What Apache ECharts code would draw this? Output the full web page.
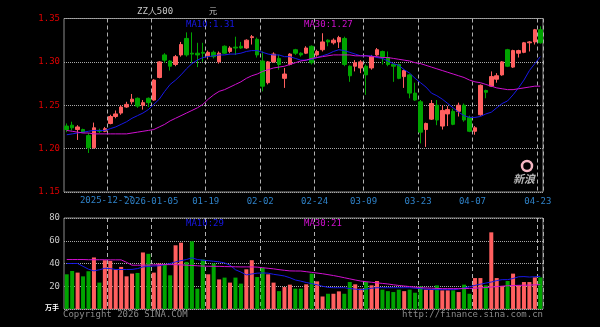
<!DOCTYPE html>
<html>
<head>
<meta charset="utf-8">
<script src="https://cdn.jsdelivr.net/npm/echarts@6/dist/echarts.min.js"></script>
<style>
html,body{margin:0;padding:0;background:#000;}
#kline{width:600px;height:327px;}
</style>
</head>
<body>
<div id="kline"></div>
<script>
// trading days shown on the chart
const dates = [
  '2025-12-10','2025-12-11','2025-12-12','2025-12-15','2025-12-16','2025-12-17','2025-12-18','2025-12-19',
  '2025-12-22','2025-12-23','2025-12-24','2025-12-25','2025-12-26','2025-12-29','2025-12-30','2025-12-31',
  '2026-01-05','2026-01-06','2026-01-07','2026-01-08','2026-01-09','2026-01-12','2026-01-13','2026-01-14','2026-01-15','2026-01-16',
  '2026-01-19','2026-01-20','2026-01-21','2026-01-22','2026-01-23','2026-01-26','2026-01-27','2026-01-28','2026-01-29','2026-01-30',
  '2026-02-02','2026-02-03','2026-02-04','2026-02-05','2026-02-06','2026-02-09','2026-02-10','2026-02-11','2026-02-12','2026-02-13',
  '2026-02-24','2026-02-25','2026-02-26','2026-02-27',
  '2026-03-02','2026-03-03','2026-03-04','2026-03-05','2026-03-06','2026-03-09','2026-03-10','2026-03-11','2026-03-12','2026-03-13',
  '2026-03-16','2026-03-17','2026-03-18','2026-03-19','2026-03-20','2026-03-23','2026-03-24','2026-03-25','2026-03-26','2026-03-27',
  '2026-03-30','2026-03-31','2026-04-01','2026-04-02','2026-04-03','2026-04-07','2026-04-08','2026-04-09','2026-04-10',
  '2026-04-13','2026-04-14','2026-04-15','2026-04-16','2026-04-17','2026-04-20','2026-04-21','2026-04-22','2026-04-23'
];
const opens = [
  1.226,1.227,1.222,1.222,1.215,1.201,1.221,1.220,1.229,1.237,
  1.241,1.248,1.254,1.258,1.250,1.258,1.256,1.282,1.308,1.301,
  1.297,1.308,1.327,1.310,1.310,1.311,1.307,1.311,1.300,1.318,
  1.312,1.317,1.318,1.316,1.328,1.326,1.301,1.276,1.300,1.304,
  1.281,1.297,1.314,1.310,1.310,1.318,1.308,1.314,1.325,1.322,
  1.323,1.327,1.295,1.295,1.293,1.295,1.293,1.308,1.312,1.305,
  1.297,1.297,1.283,1.285,1.264,1.254,1.222,1.234,1.250,1.226,
  1.240,1.243,1.243,1.250,1.236,1.220,1.239,1.267,1.272,1.280,
  1.285,1.314,1.294,1.310,1.311,1.322,1.323,1.337
];
const closes = [
  1.222,1.224,1.225,1.219,1.201,1.224,1.220,1.223,1.237,1.240,
  1.248,1.251,1.257,1.249,1.253,1.253,1.279,1.300,1.302,1.295,
  1.306,1.320,1.308,1.309,1.308,1.310,1.311,1.306,1.310,1.310,
  1.316,1.316,1.316,1.325,1.329,1.308,1.272,1.300,1.309,1.297,
  1.286,1.309,1.310,1.308,1.316,1.299,1.312,1.323,1.323,1.325,
  1.328,1.297,1.284,1.299,1.300,1.285,1.306,1.314,1.306,1.297,
  1.295,1.281,1.290,1.264,1.256,1.219,1.229,1.252,1.233,1.244,
  1.245,1.228,1.250,1.233,1.220,1.224,1.273,1.265,1.283,1.284,
  1.300,1.295,1.313,1.313,1.322,1.323,1.337,1.322
];
const lows = [
  1.219,1.221,1.210,1.218,1.195,1.200,1.218,1.219,1.228,1.235,
  1.239,1.247,1.251,1.247,1.245,1.248,1.255,1.281,1.299,1.290,
  1.295,1.306,1.306,1.299,1.294,1.300,1.303,1.304,1.298,1.309,
  1.310,1.308,1.315,1.315,1.320,1.305,1.266,1.274,1.299,1.291,
  1.270,1.296,1.308,1.306,1.309,1.297,1.306,1.312,1.318,1.320,
  1.316,1.295,1.277,1.289,1.287,1.262,1.291,1.307,1.297,1.295,
  1.277,1.280,1.270,1.258,1.255,1.206,1.202,1.233,1.227,1.222,
  1.226,1.227,1.237,1.231,1.219,1.216,1.238,1.258,1.271,1.276,
  1.284,1.294,1.293,1.305,1.310,1.312,1.320,1.321
];
const highs = [
  1.229,1.231,1.227,1.223,1.218,1.230,1.223,1.225,1.239,1.244,
  1.250,1.254,1.263,1.259,1.256,1.259,1.280,1.301,1.310,1.302,
  1.308,1.323,1.334,1.334,1.322,1.322,1.313,1.313,1.312,1.319,
  1.318,1.329,1.323,1.326,1.331,1.328,1.312,1.301,1.311,1.308,
  1.293,1.310,1.315,1.311,1.318,1.319,1.314,1.333,1.326,1.327,
  1.330,1.329,1.296,1.302,1.302,1.297,1.308,1.316,1.313,1.312,
  1.298,1.298,1.291,1.286,1.276,1.256,1.230,1.256,1.256,1.250,
  1.249,1.246,1.253,1.252,1.238,1.226,1.274,1.268,1.289,1.287,
  1.301,1.315,1.314,1.314,1.323,1.324,1.338,1.341
];
const ma10 = [
  1.216,1.217,1.218,1.219,1.220,1.221,1.221,1.221,1.223,1.225,
  1.228,1.231,1.235,1.238,1.241,1.245,1.251,1.257,1.266,1.274,
  1.279,1.285,1.292,1.298,1.302,1.305,1.306,1.307,1.308,1.308,
  1.309,1.309,1.310,1.312,1.313,1.313,1.311,1.309,1.308,1.308,
  1.306,1.306,1.304,1.302,1.302,1.303,1.305,1.307,1.309,1.312,
  1.314,1.313,1.311,1.309,1.307,1.307,1.307,1.305,1.304,1.301,
  1.298,1.296,1.291,1.287,1.281,1.276,1.271,1.264,1.261,1.257,
  1.252,1.247,1.242,1.238,1.236,1.236,1.237,1.240,1.242,1.247,
  1.252,1.255,1.262,1.270,1.279,1.290,1.298,1.306
];
const ma30 = [
  1.221,1.220,1.219,1.218,1.218,1.217,1.217,1.217,1.217,1.217,
  1.217,1.217,1.218,1.219,1.220,1.221,1.222,1.225,1.228,1.232,
  1.235,1.238,1.241,1.244,1.247,1.251,1.257,1.262,1.266,1.268,
  1.271,1.274,1.277,1.281,1.284,1.286,1.289,1.291,1.293,1.294,
  1.295,1.297,1.299,1.301,1.302,1.304,1.305,1.306,1.307,1.308,
  1.308,1.308,1.308,1.307,1.307,1.307,1.306,1.306,1.305,1.305,
  1.304,1.303,1.302,1.301,1.299,1.298,1.296,1.294,1.292,1.290,
  1.288,1.286,1.284,1.282,1.279,1.277,1.276,1.274,1.272,1.270,
  1.269,1.268,1.268,1.269,1.270,1.271,1.272,1.272
];
// volume, unit: 万
const volumes = [
  30.5,33.4,32.0,28.7,33.2,45.3,23.2,42.9,42.3,34.7,
  37.0,28.7,31.1,31.7,49.7,48.5,32.0,40.0,39.5,29.6,
  56.0,58.3,41.4,59.5,17.9,43.5,30.5,40.0,26.0,27.6,
  23.2,27.6,22.3,34.9,42.9,28.1,36.1,30.5,23.2,15.7,
  19.3,21.4,17.9,17.9,21.7,31.1,24.3,11.0,13.4,13.4,
  15.5,13.4,23.7,21.7,17.9,23.7,20.8,24.6,17.0,15.7,
  14.9,17.0,15.7,17.0,14.3,19.9,17.0,17.0,20.8,16.4,
  16.4,16.4,14.9,21.4,13.4,27.2,27.2,20.8,67.4,27.2,
  20.2,24.6,31.1,20.8,23.7,23.7,27.8,27.8
];
const volMa10 = [
  40.0,40.0,40.0,37.5,35.0,33.5,34.5,35.8,35.5,34.7,
  34.7,34.7,34.8,35.5,37.0,37.4,37.8,38.0,39.0,40.0,
  41.4,42.5,43.5,45.0,43.5,42.9,42.5,42.0,41.4,40.5,
  38.5,34.5,32.5,30.0,30.8,31.5,31.7,31.5,30.5,29.8,
  29.0,27.5,25.5,24.5,23.3,22.3,21.3,20.0,19.0,18.7,
  18.7,18.7,18.0,17.5,17.0,17.5,18.3,18.7,18.7,18.7,
  18.7,18.7,18.7,18.7,18.3,17.9,17.5,17.2,17.0,17.0,
  17.0,17.0,17.5,18.5,19.5,20.8,21.8,22.8,23.7,25.0,
  25.8,25.8,26.8,28.3,28.5,28.1,28.4,28.7
];
const volMa30 = [
  43.5,43.5,43.5,43.5,43.3,43.3,43.3,43.3,43.2,43.2,
  43.2,41.0,38.5,38.5,38.5,38.6,38.8,39.0,39.0,39.0,
  39.0,38.8,38.5,38.3,38.0,37.7,37.6,37.5,37.5,37.3,
  37.2,37.1,37.0,37.0,37.0,36.8,36.3,35.8,35.3,34.6,
  34.0,33.5,33.4,33.4,32.8,32.2,31.6,31.0,30.2,29.4,
  28.5,27.5,26.5,25.5,24.6,24.0,23.5,23.0,22.5,22.0,
  21.3,20.7,20.2,19.7,19.2,18.8,18.5,18.3,18.1,17.9,
  17.9,17.9,17.9,17.9,18.1,18.3,18.6,18.9,19.3,19.7,
  20.1,20.4,20.6,20.8,20.9,21.0,21.2,21.4
];
// dates that get a dashed line and a label
const tickDates = ['2025-12-22','2026-01-05','2026-01-19','2026-02-02','2026-02-24','2026-03-09','2026-03-23','2026-04-07','2026-04-23'];
const tickTexts = ['2025-12-22','2026-01-05','01-19','02-02','02-24','03-09','03-23','04-07','04-23'];

const MONO = '"DejaVu Sans Mono", monospace';
const UP = '#ff5f5f';
const DOWN = '#00a400';

let myChart = echarts.init(document.getElementById('kline'));

let tickIdx = tickDates.map(d => dates.indexOf(d));
let isTick = function(i){ return tickIdx.indexOf(i) >= 0; };

let kdata = dates.map((d, i) => [opens[i], closes[i], lows[i], highs[i]]);
let vdata = volumes.map((v, i) => ({
  value: v,
  itemStyle: { color: closes[i] >= opens[i] ? UP : DOWN }
}));

let vsplit = {
  show: true,
  interval: function(i){ return isTick(i); },
  lineStyle: { color: '#b0b0b0', type: [4, 3], width: 1 }
};

let option = {
  backgroundColor: '#000',
  animation: false,
  grid: [
    { left: 64, right: 57, top: 18.5, height: 173.5, show: true, borderColor: '#8c8c8c', borderWidth: 1 },
    { left: 64, right: 57, top: 218, height: 91, show: true, borderColor: '#8c8c8c', borderWidth: 1 }
  ],
  xAxis: [
    {
      type: 'category', gridIndex: 0, data: dates, boundaryGap: true,
      axisLine: { show: false }, axisTick: { show: false },
      axisLabel: {
        // the first one (2025-12-22) is drawn as a graphic below, the next label overlaps it
        interval: function(i){ return isTick(i) && i !== tickIdx[0]; },
        formatter: function(v){ return tickTexts[tickDates.indexOf(v)]; },
        hideOverlap: false,
        color: '#2f82c8', fontFamily: MONO, fontSize: 9, margin: 5,
        backgroundColor: '#000', padding: [0, 5, 0, 0]
      },
      splitLine: vsplit
    },
    {
      type: 'category', gridIndex: 1, data: dates, boundaryGap: true,
      axisLine: { show: false }, axisTick: { show: false }, axisLabel: { show: false },
      splitLine: vsplit
    }
  ],
  yAxis: [
    {
      type: 'value', gridIndex: 0, min: 1.15, max: 1.35, interval: 0.05,
      axisLine: { show: false }, axisTick: { show: false },
      axisLabel: { color: '#e00000', fontFamily: MONO, fontSize: 9, margin: 4,
        formatter: function(v){ return v.toFixed(2); } },
      splitLine: { lineStyle: { color: '#a8a8a8', type: [1, 1], width: 1 } }
    },
    {
      type: 'value', gridIndex: 1, min: 0, max: 80, interval: 20,
      axisLine: { show: false }, axisTick: { show: false },
      axisLabel: { color: '#c8c8c8', fontFamily: MONO, fontSize: 9, margin: 4,
        formatter: function(v){ return v === 0 ? '' : v; } },
      splitLine: { lineStyle: { color: '#a8a8a8', type: [1, 1], width: 1 } }
    }
  ],
  series: [
    {
      type: 'candlestick', xAxisIndex: 0, yAxisIndex: 0, data: kdata, barWidth: 4,
      itemStyle: { color: UP, color0: DOWN, borderColor: UP, borderColor0: DOWN, borderWidth: 1 }
    },
    { type: 'line', xAxisIndex: 0, yAxisIndex: 0, data: ma10, symbol: 'none',
      lineStyle: { color: '#1818e8', width: 1 } },
    { type: 'line', xAxisIndex: 0, yAxisIndex: 0, data: ma30, symbol: 'none',
      lineStyle: { color: '#d010d0', width: 1 } },
    { type: 'bar', xAxisIndex: 1, yAxisIndex: 1, data: vdata, barWidth: 4 },
    { type: 'line', xAxisIndex: 1, yAxisIndex: 1, data: volMa10, symbol: 'none',
      lineStyle: { color: '#1818e8', width: 1 } },
    { type: 'line', xAxisIndex: 1, yAxisIndex: 1, data: volMa30, symbol: 'none',
      lineStyle: { color: '#d010d0', width: 1 } }
  ],
  graphic: [
    { type: 'text', z: -10, x: 107, y: 201, style: { text: tickTexts[0], fill: '#2f82c8', font: '9px ' + MONO, textAlign: 'center', textVerticalAlign: 'middle' } },
    { type: 'text', left: 137, top: 7, style: { text: 'ZZ人500', fill: '#c8c8c8', font: '9px ' + MONO } },
    { type: 'text', left: 209, top: 7, style: { text: '元', fill: '#c8c8c8', font: '8px "Noto Sans CJK SC"' } },
    { type: 'text', left: 186, top: 20, style: { text: 'MA10:' + ma10[ma10.length - 1].toFixed(2), fill: '#1818e8', font: '9px ' + MONO } },
    { type: 'text', left: 304, top: 20, style: { text: 'MA30:' + ma30[ma30.length - 1].toFixed(2), fill: '#d010d0', font: '9px ' + MONO } },
    { type: 'text', left: 186, top: 219, style: { text: 'MA10:' + Math.round(volMa10[volMa10.length - 1]), fill: '#1818e8', font: '9px ' + MONO } },
    { type: 'text', left: 304, top: 219, style: { text: 'MA30:' + Math.round(volMa30[volMa30.length - 1]), fill: '#d010d0', font: '9px ' + MONO } },
    { type: 'text', left: 45, top: 304, style: { text: '万手', fill: '#ffffff', font: 'bold 7px "Noto Sans CJK SC"' } },
    { type: 'text', left: 63, top: 310, style: { text: 'Copyright 2026 SINA.COM', fill: '#8a8a8a', font: '9px ' + MONO } },
    { type: 'text', right: 57, top: 310, style: { text: 'http://finance.sina.com.cn', fill: '#8a8a8a', font: '9px ' + MONO } },
    { type: 'circle', shape: { cx: 527, cy: 166, r: 5 }, style: { fill: 'none', stroke: '#f4b6c2', lineWidth: 2.5 } },
    { type: 'text', left: 513, top: 173, style: { text: '新浪', fill: '#b8b8b8', font: 'italic bold 11px "Noto Sans CJK SC"' } }
  ]
};
myChart.setOption(option);
</script>
</body>
</html>
